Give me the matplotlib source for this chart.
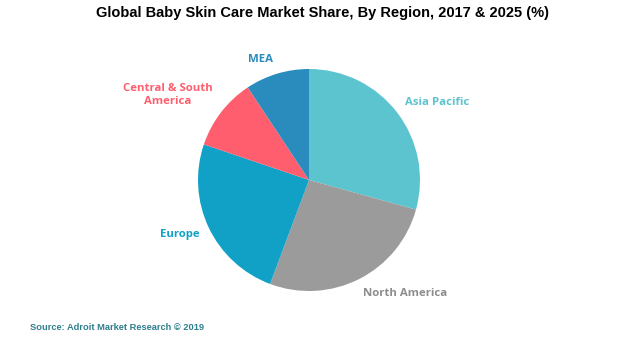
import matplotlib.pyplot as plt

# Data
regions = ["Asia Pacific", "North America", "Europe", "Central & South\nAmerica", "MEA"]
shares = [29.3, 26.4, 24.5, 10.5, 9.3]
colors = ["#5BC4CE", "#9B9B9B", "#11A0C6", "#FF5E6E", "#2A8BBD"]
label_colors = ["#5BC4CE", "#8C8C8C", "#11A0C6", "#FF5E6E", "#2A8BBD"]

# label positions in pie units (radius = 1)
label_pos = [(1.15, 0.70), (0.87, -1.02), (-1.16, -0.49), (-1.27, 0.77), (-0.44, 1.09)]

fig = plt.figure(figsize=(6.2, 3.51), dpi=100)
ax = fig.add_axes([198 / 620, 60 / 351, 222 / 620, 222 / 351])

wedges, _ = ax.pie(shares, colors=colors, startangle=90, counterclock=False,
                   radius=1, wedgeprops=dict(linewidth=0))
ax.set_xlim(-1, 1)
ax.set_ylim(-1, 1)
ax.set_aspect("equal")
ax.axis("off")

for name, c, (x, y) in zip(regions, label_colors, label_pos):
    ax.text(x, y, name, color=c, ha="center", va="center", fontsize=8.2,
            fontweight="bold", family="Open Sans", linespacing=1.25, clip_on=False)

fig.text(322 / 620, 0.963, "Global Baby Skin Care Market Share, By Region, 2017 & 2025 (%)",
         ha="center", va="center", fontsize=10.5, fontweight="bold",
         family="Liberation Sans")
fig.text(30 / 620, 1 - 328 / 351, "Source: Adroit Market Research \u00a9 2019",
         ha="left", va="center", fontsize=6.7, fontweight="bold",
         color="#2E7F8E", family="Liberation Sans")

fig.savefig("out.png", dpi=100)
